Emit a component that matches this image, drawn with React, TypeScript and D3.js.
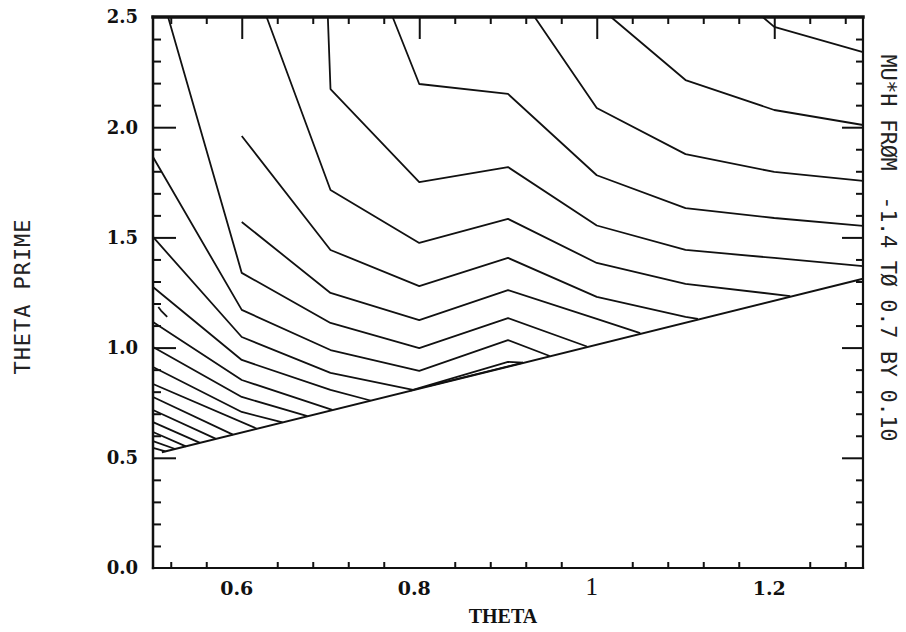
import React, { useEffect, useRef } from 'react';
import * as d3 from 'd3';

// contour polylines as [theta, thetaPrime] (top-right to bottom-left)
const lineI = [[1.187, 2.5], [1.2, 2.455], [1.3, 2.341]];
const lineH = [[1.016, 2.5], [1.1, 2.214], [1.2, 2.078], [1.3, 2.01]];
const lineG = [[0.93, 2.5], [1.0, 2.087], [1.1, 1.878], [1.2, 1.797], [1.3, 1.756]];
const lineF = [[0.77, 2.5], [0.8, 2.196], [0.9, 2.151], [1.0, 1.782], [1.1, 1.633], [1.2, 1.588], [1.3, 1.552]];
const lineD = [[0.697, 2.5], [0.7, 2.173], [0.8, 1.751], [0.9, 1.819], [1.0, 1.554], [1.1, 1.443], [1.2, 1.407], [1.3, 1.37]];
const lineC = [[0.628, 2.5], [0.7, 1.715], [0.8, 1.475], [0.9, 1.584], [1.0, 1.384], [1.1, 1.289], [1.218, 1.234]];
const lineB1 = [[0.6, 1.96], [0.7, 1.443], [0.8, 1.279], [0.9, 1.407], [1.0, 1.23], [1.1, 1.139], [1.114, 1.13]];
const lineB2 = [[0.6, 1.57], [0.7, 1.248], [0.8, 1.125], [0.9, 1.261], [1.0, 1.13], [1.049, 1.066]];
const lineA = [[0.517, 2.5], [0.6, 1.339], [0.7, 1.112], [0.8, 0.998], [0.9, 1.134], [0.989, 1.005]];
const lineE = [[0.5, 1.865], [0.6, 1.171], [0.7, 0.989], [0.8, 0.894], [0.9, 1.034], [0.947, 0.962]];
const lineL1 = [[0.5, 1.502], [0.6, 1.048], [0.7, 0.885], [0.793, 0.808]];
const lineL2 = [[0.5, 1.275], [0.6, 0.944], [0.7, 0.808], [0.745, 0.76]];
const lineL3 = [[0.5, 1.116], [0.6, 0.853], [0.702, 0.717]];
const lineL4 = [[0.5, 1.003], [0.6, 0.776], [0.674, 0.689]];
const lineL5 = [[0.5, 0.912], [0.6, 0.708], [0.646, 0.661]];
const lineL6 = [[0.5, 0.835], [0.617, 0.632]];
const lineL7 = [[0.5, 0.776], [0.59, 0.605]];
const lineL8 = [[0.5, 0.717], [0.571, 0.586]];
const lineL9 = [[0.5, 0.662], [0.553, 0.568]];
const lineL10 = [[0.5, 0.617], [0.537, 0.552]];
const lineL11 = [[0.5, 0.576], [0.525, 0.54]];
const lineL12 = [[0.5, 0.545], [0.514, 0.529]];
const sliverUpper = [[0.79, 0.805], [0.9, 0.935], [0.917, 0.932]];
const sliverLower = [[0.81, 0.825], [0.917, 0.932]];
const stub = [[0.506, 1.184], [0.509, 1.168], [0.516, 1.139]];

// theta' = theta edge of the computed region
const boundary = [[0.51, 0.525], [1.3, 1.312]];

const xMinorTicks = [0.52, 0.56, 0.64, 0.68, 0.72, 0.76, 0.84, 0.88, 0.92, 0.96, 1.04, 1.08, 1.12, 1.16, 1.24, 1.28];
const xMajorTicks = [0.6, 0.8, 1.0, 1.2];
const xTickLabels = ['0.6', '0.8', '1', '1.2'];
const yMinorTicks = [0.1, 0.2, 0.3, 0.4, 0.6, 0.7, 0.8, 0.9, 1.1, 1.2, 1.3, 1.4, 1.6, 1.7, 1.8, 1.9, 2.1, 2.2, 2.3, 2.4];
const yMajorTicks = [0.5, 1.0, 1.5, 2.0];
const yTickValues = [0, 0.5, 1.0, 1.5, 2.0, 2.5];
const yTickLabels = ['0.0', '0.5', '1.0', '1.5', '2.0', '2.5'];

const xTitle = 'THETA';
const yTitle = 'THETA PRIME';
const sideNote = 'MU*H FRØM  -1.4 TØ 0.7 BY 0.10';

const App = () => {
    const svgRef = useRef(null);

    useEffect(() => {
        const svg = d3.select(svgRef.current);
        svg.selectAll('*').remove();

        const x = d3.scaleLinear().domain([0.5, 1.3]).range([153, 863]);
        const y = d3.scaleLinear().domain([0, 2.5]).range([568, 17]);

        const contours = [lineI, lineH, lineG, lineF, lineD, lineC, lineB1, lineB2, lineA, lineE,
            lineL1, lineL2, lineL3, lineL4, lineL5, lineL6, lineL7, lineL8, lineL9, lineL10, lineL11, lineL12,
            sliverUpper, sliverLower, stub];

        const line = d3.line().x(d => x(d[0])).y(d => y(d[1]));

        svg.append('g')
            .selectAll('path')
            .data(contours)
            .enter().append('path')
            .attr('d', line)
            .attr('fill', 'none')
            .attr('stroke', '#111')
            .attr('stroke-width', 1.8)
            .attr('stroke-linejoin', 'round');

        svg.append('path')
            .attr('d', line(boundary))
            .attr('fill', 'none')
            .attr('stroke', '#111')
            .attr('stroke-width', 2);

        // ticks, all pointing into the plot
        const tickStyle = g => {
            g.select('.domain').remove();
            g.selectAll('line').attr('stroke', '#111').attr('stroke-width', 2);
            g.selectAll('text').remove();
        };
        svg.append('g').attr('transform', `translate(0,${y(2.5)})`)
            .call(d3.axisBottom(x).tickValues(xMinorTicks).tickSize(7)).call(tickStyle);
        svg.append('g').attr('transform', `translate(0,${y(2.5)})`)
            .call(d3.axisBottom(x).tickValues(xMajorTicks).tickSize(22)).call(tickStyle);
        svg.append('g').attr('transform', `translate(0,${y(0)})`)
            .call(d3.axisTop(x).tickValues(xMinorTicks).tickSize(6)).call(tickStyle);
        svg.append('g').attr('transform', `translate(${x(0.5)},0)`)
            .call(d3.axisRight(y).tickValues(yMinorTicks).tickSize(8)).call(tickStyle);
        svg.append('g').attr('transform', `translate(${x(0.5)},0)`)
            .call(d3.axisRight(y).tickValues(yMajorTicks).tickSize(23)).call(tickStyle);
        svg.append('g').attr('transform', `translate(${x(1.3)},0)`)
            .call(d3.axisLeft(y).tickValues(yMinorTicks).tickSize(7)).call(tickStyle);
        svg.append('g').attr('transform', `translate(${x(1.3)},0)`)
            .call(d3.axisLeft(y).tickValues(yMajorTicks).tickSize(21)).call(tickStyle);

        // frame
        const frame = svg.append('g').attr('stroke', '#111').attr('stroke-linecap', 'square');
        frame.append('line').attr('x1', x(0.5)).attr('x2', x(1.3)).attr('y1', y(2.5)).attr('y2', y(2.5)).attr('stroke-width', 3.5);
        frame.append('line').attr('x1', x(0.5)).attr('x2', x(1.3)).attr('y1', y(0)).attr('y2', y(0)).attr('stroke-width', 2.2);
        frame.append('line').attr('x1', x(0.5)).attr('x2', x(0.5)).attr('y1', y(2.5)).attr('y2', y(0)).attr('stroke-width', 2.5);
        frame.append('line').attr('x1', x(1.3)).attr('x2', x(1.3)).attr('y1', y(2.5)).attr('y2', y(0)).attr('stroke-width', 2.2);

        // y tick labels
        svg.append('g')
            .selectAll('text')
            .data(yTickValues)
            .enter().append('text')
            .attr('x', 138)
            .attr('y', d => y(d))
            .attr('dy', '0.36em')
            .attr('text-anchor', 'end')
            .style('font-family', '"DejaVu Serif", serif')
            .style('font-size', '18px')
            .style('font-weight', (d, i) => yTickLabels[i] === '1.0' ? 700 : 600)
            .attr('fill', '#111')
            .text((d, i) => yTickLabels[i]);

        // x tick labels
        svg.append('g')
            .selectAll('text')
            .data(xMajorTicks)
            .enter().append('text')
            .attr('x', d => x(d) - 5)
            .attr('y', 595)
            .attr('text-anchor', 'middle')
            .style('font-family', (d, i) => xTickLabels[i] === '1' ? '"Liberation Serif", serif' : '"DejaVu Serif", serif')
            .style('font-size', (d, i) => xTickLabels[i] === '1' ? '25px' : '19px')
            .style('font-weight', (d, i) => xTickLabels[i] === '1' ? 400 : (xTickLabels[i] === '1.2' ? 700 : 600))
            .attr('fill', '#111')
            .text((d, i) => xTickLabels[i]);

        svg.append('text')
            .attr('x', 503)
            .attr('y', 623)
            .attr('text-anchor', 'middle')
            .style('font-family', '"Liberation Serif", serif')
            .style('font-size', '20px')
            .style('font-weight', 900)
            .attr('fill', '#111')
            .text(xTitle);

        svg.append('text')
            .attr('transform', 'translate(22,297) rotate(-90)')
            .attr('text-anchor', 'middle')
            .attr('dominant-baseline', 'central')
            .attr('textLength', 155)
            .attr('lengthAdjust', 'spacing')
            .style('font-family', '"DejaVu Sans Mono", monospace')
            .style('font-size', '22px')
            .attr('fill', '#222')
            .text(yTitle);

        svg.append('text')
            .attr('transform', 'translate(888,248) rotate(90)')
            .attr('text-anchor', 'middle')
            .attr('dominant-baseline', 'central')
            .attr('textLength', 387)
            .attr('lengthAdjust', 'spacing')
            .style('font-family', '"DejaVu Sans Mono", monospace')
            .style('font-size', '22px')
            .style('white-space', 'pre')
            .attr('fill', '#222')
            .text(sideNote);
    }, []);

    return (
        <svg ref={svgRef} width={906} height={632}
            style={{ position: 'absolute', left: 0, top: 0, background: '#fff' }} />
    );
};

export default App;
